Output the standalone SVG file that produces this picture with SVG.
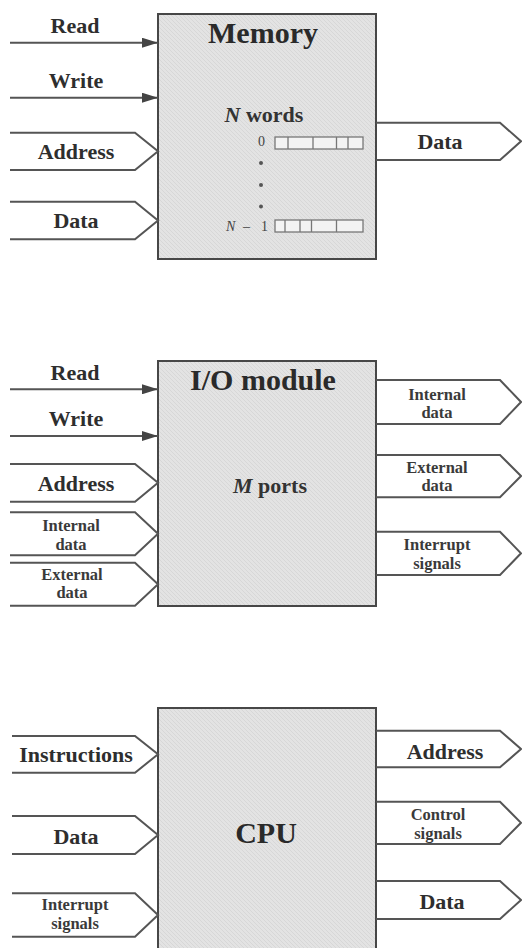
<svg xmlns="http://www.w3.org/2000/svg" width="522" height="948" viewBox="0 0 522 948">
<style>
.box{fill:url(#hatch);stroke:#474747;stroke-width:2}
.bus{fill:none;stroke:#555;stroke-width:2;stroke-linejoin:miter}
.sig{fill:none;stroke:#555;stroke-width:2}
.lbl{font-family:"Liberation Serif","Times New Roman",serif;font-weight:bold;font-size:22px;fill:#2e2e2e;text-anchor:middle}
.sm{font-family:"Liberation Serif","Times New Roman",serif;font-weight:bold;font-size:16.5px;fill:#3a3a3a;text-anchor:middle}
.title{font-family:"Liberation Serif","Times New Roman",serif;font-weight:bold;font-size:30px;fill:#2a2a2a;text-anchor:middle}
.inner{font-family:"Liberation Serif","Times New Roman",serif;font-weight:bold;font-size:22px;fill:#333;text-anchor:middle}
.idx{font-family:"Liberation Serif","Times New Roman",serif;font-size:14px;fill:#444}
.reg{fill:#f3f3f3;stroke:#777;stroke-width:1.3}
.div{stroke:#777;stroke-width:1.3}
.dot{fill:#555}
</style>
<defs>
<pattern id="hatch" patternUnits="userSpaceOnUse" width="4" height="4">
<rect width="4" height="4" fill="#e3e3e3"/>
<path d="M0,0 L4,4" stroke="#d7d7d7" stroke-width="1"/>
</pattern>
<marker id="arr" markerUnits="userSpaceOnUse" markerWidth="16" markerHeight="10" refX="16" refY="5" orient="auto">
<path d="M0,0 L16,5 L0,10 z" fill="#444"/>
</marker>
</defs>
<rect width="522" height="948" fill="#fff"/>

<g id="memory">
<rect class="box" x="158" y="14" width="218" height="245"/>
<text class="title" x="263" y="43">Memory</text>
<text class="inner" x="264" y="122"><tspan font-style="italic">N</tspan> words</text>
<text class="idx" x="258" y="146">0</text>
<rect class="reg" x="275" y="137" width="88" height="12"/>
<path class="div" d="M288,137V149 M313,137V149 M336.5,137V149 M348,137V149"/>
<circle class="dot" cx="261" cy="163" r="2"/>
<circle class="dot" cx="261" cy="185" r="2"/>
<circle class="dot" cx="261" cy="206.5" r="2"/>
<text class="idx" y="231"><tspan x="226" font-style="italic">N</tspan><tspan x="243">–</tspan><tspan x="261">1</tspan></text>
<rect class="reg" x="275" y="220" width="88" height="12"/>
<path class="div" d="M285,220V232 M300,220V232 M311.5,220V232 M336.5,220V232"/>
</g>

<g id="io-module">
<rect class="box" x="158" y="361" width="218" height="245"/>
<text class="title" x="263" y="390">I/O module</text>
<text class="inner" x="270" y="493"><tspan font-style="italic">M</tspan> ports</text>
</g>

<g id="cpu">
<rect class="box" x="158" y="708" width="218" height="260"/>
<text class="title" x="266" y="843">CPU</text>
</g>

<g id="connectors">
<g id="mem-read"><line class="sig" x1="10" y1="42.7" x2="158" y2="42.7" marker-end="url(#arr)"/><text class="lbl" x="75" y="33">Read</text></g>
<g id="mem-write"><line class="sig" x1="10" y1="97.7" x2="158" y2="97.7" marker-end="url(#arr)"/><text class="lbl" x="76" y="88">Write</text></g>
<g id="mem-address"><path class="bus" d="M10,132.7 H135 L158,151.3 L135,170 H10"/><text class="lbl" x="76" y="159">Address</text></g>
<g id="mem-data-in"><path class="bus" d="M10,201.7 H135 L158,220.5 L135,239.3 H10"/><text class="lbl" x="76" y="228">Data</text></g>
<g id="mem-data-out"><path class="bus" d="M376,122.7 H500 L521,141.3 L500,160 H376"/><text class="lbl" x="440" y="149">Data</text></g>
<g id="io-read"><line class="sig" x1="10" y1="389.3" x2="158" y2="389.3" marker-end="url(#arr)"/><text class="lbl" x="75" y="380">Read</text></g>
<g id="io-write"><line class="sig" x1="10" y1="436" x2="158" y2="436" marker-end="url(#arr)"/><text class="lbl" x="76" y="426">Write</text></g>
<g id="io-address"><path class="bus" d="M10,464 H135 L158,482.8 L135,501.7 H10"/><text class="lbl" x="76" y="491">Address</text></g>
<g id="io-internal-in"><path class="bus" d="M10,512.3 H135 L158,533.8 L135,555.3 H10"/><text class="sm" x="71" y="531">Internal</text><text class="sm" x="71" y="549.5">data</text></g>
<g id="io-external-in"><path class="bus" d="M10,562.7 H135 L158,584.2 L135,605.7 H10"/><text class="sm" x="72" y="579.5">External</text><text class="sm" x="72" y="598">data</text></g>
<g id="io-internal-out"><path class="bus" d="M376,380 H500 L521,402 L500,424 H376"/><text class="sm" x="437" y="399.5">Internal</text><text class="sm" x="437" y="418">data</text></g>
<g id="io-external-out"><path class="bus" d="M376,455 H500 L521,476 L500,497.3 H376"/><text class="sm" x="437" y="472.5">External</text><text class="sm" x="437" y="491">data</text></g>
<g id="io-interrupt-out"><path class="bus" d="M376,531.7 H500 L521,553.3 L500,575 H376"/><text class="sm" x="437" y="550">Interrupt</text><text class="sm" x="437" y="568.5">signals</text></g>
<g id="cpu-instructions"><path class="bus" d="M12,736 H135 L158,754.3 L135,772.7 H12"/><text class="lbl" x="76" y="762">Instructions</text></g>
<g id="cpu-data-in"><path class="bus" d="M12,816 H135 L158,835 L135,854 H12"/><text class="lbl" x="76" y="843.5">Data</text></g>
<g id="cpu-interrupt-in"><path class="bus" d="M12,893.3 H135 L158,915 L135,936.7 H12"/><text class="sm" x="75" y="910">Interrupt</text><text class="sm" x="75" y="928.5">signals</text></g>
<g id="cpu-address-out"><path class="bus" d="M376,730.7 H500 L521,749 L500,767.3 H376"/><text class="lbl" x="445" y="758.5">Address</text></g>
<g id="cpu-control-out"><path class="bus" d="M376,801.7 H500 L521,822.8 L500,844 H376"/><text class="sm" x="438" y="820">Control</text><text class="sm" x="438" y="838.5">signals</text></g>
<g id="cpu-data-out"><path class="bus" d="M376,881 H500 L521,900 L500,919 H376"/><text class="lbl" x="442" y="908.5">Data</text></g>
</g>
</svg>
